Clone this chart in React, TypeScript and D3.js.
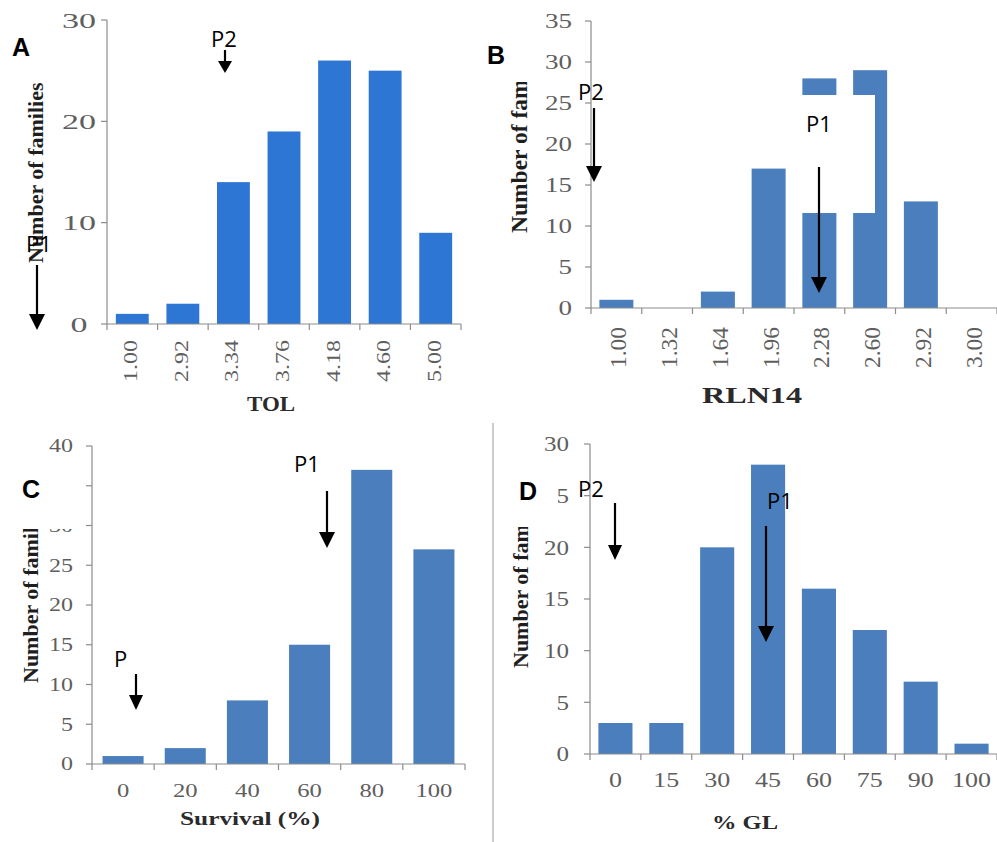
import React from "react";
import * as d3 from "d3";

// ---------- data ----------
const catsA = ["1.00", "2.92", "3.34", "3.76", "4.18", "4.60", "5.00"];
const valsA = [1, 2, 14, 19, 26, 25, 9];
const ticksA = [0, 10, 20, 30];

const catsB = ["1.00", "1.32", "1.64", "1.96", "2.28", "2.60", "2.92", "3.00"];
const valsB = [1, 0, 2, 17, 28, 29, 13, 0];
const ticksB = [0, 5, 10, 15, 20, 25, 30, 35];

const catsC = ["0", "20", "40", "60", "80", "100"];
const valsC = [1, 2, 8, 15, 37, 27];
const ticksC = [0, 5, 10, 15, 20, 25, 30, 35, 40];

const catsD = ["0", "15", "30", "45", "60", "75", "90", "100"];
const valsD = [3, 3, 20, 28, 16, 12, 7, 1];
const ticksD = [0, 5, 10, 15, 20, 25, 30];

const SERIF = "'Liberation Serif', 'Times New Roman', serif";
const SANS = "'Liberation Sans', Arial, sans-serif";
const CAL = "'Open Sans', Lato, sans-serif";

type Layout = {
  x0: number; x1: number; y0: number; y1: number; yMax: number;
  barFrac: number; color: string;
  yTickFont: number; yTickCharW: number; yTickX: number; yTickAnchor: string;
  xRot: boolean; xFont: number; xLen: number; xCharW: number; xLabelY: number; xLabelDx: number;
  title: string; titleX: number; titleY: number; titleFont: number; titleLen: number;
  yTitleX: number; yTitleY: number; yTitleFont: number;
};

const LA: Layout = {
  x0: 107, x1: 461, y0: 324, y1: 20, yMax: 30, barFrac: 0.65, color: "#2d76d3",
  yTickFont: 22, yTickCharW: 17, yTickX: 79, yTickAnchor: "middle",
  xRot: true, xFont: 19, xLen: 42, xCharW: 0, xLabelY: 340, xLabelDx: 5,
  title: "TOL", titleX: 271, titleY: 411, titleFont: 21, titleLen: 48,
  yTitleX: 43, yTitleY: 263, yTitleFont: 22,
};
const LB: Layout = {
  x0: 591, x1: 997, y0: 308, y1: 21, yMax: 35, barFrac: 0.67, color: "#4a7ebd",
  yTickFont: 20, yTickCharW: 13.5, yTickX: 572, yTickAnchor: "end",
  xRot: true, xFont: 23, xLen: 41, xCharW: 0, xLabelY: 327, xLabelDx: 10,
  title: "RLN14", titleX: 752, titleY: 403, titleFont: 23, titleLen: 100,
  yTitleX: 527, yTitleY: 233, yTitleFont: 23.5,
};
const LC: Layout = {
  x0: 92, x1: 465, y0: 764, y1: 446, yMax: 40, barFrac: 0.66, color: "#4a7ebd",
  yTickFont: 18, yTickCharW: 12, yTickX: 73, yTickAnchor: "end",
  xRot: false, xFont: 19, xLen: 0, xCharW: 12.3, xLabelY: 797, xLabelDx: 0,
  title: "Survival (%)", titleX: 250, titleY: 825, titleFont: 19, titleLen: 140,
  yTitleX: 38, yTitleY: 683, yTitleFont: 22,
};
const LD: Layout = {
  x0: 590, x1: 997, y0: 754, y1: 444, yMax: 30, barFrac: 0.67, color: "#4a7ebd",
  yTickFont: 21, yTickCharW: 12.5, yTickX: 569, yTickAnchor: "end",
  xRot: false, xFont: 20, xLen: 0, xCharW: 13, xLabelY: 787, xLabelDx: 0,
  title: "% GL", titleX: 745, titleY: 829, titleFont: 19, titleLen: 66,
  yTitleX: 528, yTitleY: 668, yTitleFont: 22,
};

function Panel({ cats, vals, ticks, L }: { cats: string[]; vals: number[]; ticks: number[]; L: Layout }) {
  const x = d3.scaleBand<string>().domain(cats).range([L.x0, L.x1]);
  const y = d3.scaleLinear().domain([0, L.yMax]).range([L.y0, L.y1]);
  const bw = x.bandwidth() * L.barFrac;
  const bounds = cats.map((c) => x(c) as number).concat([L.x1]);
  const axisColor = "#8c8c8c";
  const tickColor = "#5e5e5e";
  return (
    <g>
      {cats.map((c, i) => (
        <rect
          key={"b" + c}
          x={(x(c) as number) + (x.bandwidth() - bw) / 2}
          y={y(vals[i])}
          width={bw}
          height={L.y0 - y(vals[i])}
          fill={L.color}
        />
      ))}
      {/* y axis */}
      <line x1={L.x0} x2={L.x0} y1={y(L.yMax)} y2={L.y0} stroke={axisColor} strokeWidth={1.2} />
      {ticks.map((t) => (
        <g key={"yt" + t}>
          <line x1={L.x0 - 6} x2={L.x0} y1={y(t)} y2={y(t)} stroke={axisColor} strokeWidth={1.2} />
          <text
            x={L.yTickX}
            y={y(t)}
            dy="0.35em"
            textAnchor={L.yTickAnchor as any}
            fontFamily={SERIF}
            fontSize={L.yTickFont}
            fill={tickColor}
            textLength={String(t).length * L.yTickCharW}
            lengthAdjust="spacingAndGlyphs"
          >
            {t}
          </text>
        </g>
      ))}
      {/* x axis */}
      <line x1={L.x0} x2={L.x1} y1={L.y0} y2={L.y0} stroke={axisColor} strokeWidth={1.2} />
      {bounds.map((b, i) => (
        <line key={"xt" + i} x1={b} x2={b} y1={L.y0} y2={L.y0 + 6} stroke={axisColor} strokeWidth={1.2} />
      ))}
      {cats.map((c) => {
        const cx = (x(c) as number) + x.bandwidth() / 2;
        if (L.xRot) {
          return (
            <text
              key={"xl" + c}
              transform={`translate(${cx + L.xLabelDx},${L.xLabelY}) rotate(-90)`}
              textAnchor="end"
              fontFamily={SERIF}
              fontSize={L.xFont}
              fill={tickColor}
              textLength={L.xLen}
              lengthAdjust="spacingAndGlyphs"
            >
              {c}
            </text>
          );
        }
        return (
          <text
            key={"xl" + c}
            x={cx}
            y={L.xLabelY}
            textAnchor="middle"
            fontFamily={SERIF}
            fontSize={L.xFont}
            fill={tickColor}
            textLength={c.length * L.xCharW}
            lengthAdjust="spacingAndGlyphs"
          >
            {c}
          </text>
        );
      })}
      <text
        x={L.titleX}
        y={L.titleY}
        textAnchor="middle"
        fontFamily={SERIF}
        fontWeight="bold"
        fontSize={L.titleFont}
        fill="#2a2a2a"
        textLength={L.titleLen}
        lengthAdjust="spacingAndGlyphs"
      >
        {L.title}
      </text>
      <text
        transform={`translate(${L.yTitleX},${L.yTitleY}) rotate(-90)`}
        textAnchor="start"
        fontFamily={SERIF}
        fontWeight="bold"
        fontSize={L.yTitleFont}
        fill="#1e1e1e"
      >
        Number of families
      </text>
    </g>
  );
}

function Arrow({ x, y1, y2, hw = 7, hl = 15 }: { x: number; y1: number; y2: number; hw?: number; hl?: number }) {
  return (
    <g>
      <line x1={x} x2={x} y1={y1} y2={y2 - hl + 1} stroke="#000" strokeWidth={2.2} />
      <polygon points={`${x - hw},${y2 - hl} ${x + hw},${y2 - hl} ${x},${y2}`} fill="#000" />
    </g>
  );
}

function PLabel({ x, y, t }: { x: number; y: number; t: string }) {
  return (
    <text x={x} y={y} fontFamily={CAL} fontSize={22} fill="#000">
      {t}
    </text>
  );
}

function Letter({ x, y, t }: { x: number; y: number; t: string }) {
  return (
    <text x={x} y={y} fontFamily={SANS} fontWeight="bold" fontSize={25} fill="#000">
      {t}
    </text>
  );
}

export default function App() {
  return (
    <svg
      width={997}
      height={842}
      style={{ position: "absolute", left: 0, top: 0, background: "#fff" }}
    >
      <rect x={0} y={0} width={997} height={842} fill="#fff" />
      <Panel cats={catsA} vals={valsA} ticks={ticksA} L={LA} />
      <Panel cats={catsB} vals={valsB} ticks={ticksB} L={LB} />
      <Panel cats={catsC} vals={valsC} ticks={ticksC} L={LC} />
      <Panel cats={catsD} vals={valsD} ticks={ticksD} L={LD} />

      {/* separator */}
      <line x1={493} x2={493} y1={423} y2={842} stroke="#9a9a9a" strokeWidth={1} />

      {/* white cover boxes */}
      <rect x={0} y={30} width={60} height={48} fill="#fff" />
      <rect x={0} y={0} width={100} height={11} fill="#fff" />
      <rect x={487} y={0} width={53} height={82} fill="#fff" />
      <rect x={787} y={95} width={88} height={118} fill="#fff" />
      <rect x={0} y={456} width={82} height={73} fill="#fff" />
      <rect x={494} y={453} width={64} height={74} fill="#fff" />

      {/* panel letters */}
      <Letter x={12} y={56} t="A" />
      <Letter x={487} y={64} t="B" />
      <Letter x={22} y={498} t="C" />
      <Letter x={519} y={500} t="D" />

      {/* annotations */}
      <PLabel x={211} y={47} t="P2" />
      <Arrow x={225} y1={50} y2={73} hw={7} hl={12} />
      <PLabel x={26} y={252} t="P1" />
      <Arrow x={37} y1={265} y2={330} hw={8} hl={16} />

      <PLabel x={578} y={100} t="P2" />
      <Arrow x={594} y1={108} y2={182} hw={8} hl={16} />
      <PLabel x={806} y={132} t="P1" />
      <Arrow x={819} y1={167} y2={293} hw={8} hl={16} />

      <PLabel x={294} y={472} t="P1" />
      <Arrow x={327} y1={491} y2={548} hw={8} hl={16} />
      <PLabel x={114} y={667} t="P" />
      <Arrow x={136} y1={674} y2={710} hw={7} hl={15} />

      <PLabel x={578} y={497} t="P2" />
      <Arrow x={615} y1={503} y2={560} hw={7} hl={15} />
      <PLabel x={767} y={509} t="P1" />
      <Arrow x={766} y1={526} y2={642} hw={8} hl={16} />
    </svg>
  );
}
